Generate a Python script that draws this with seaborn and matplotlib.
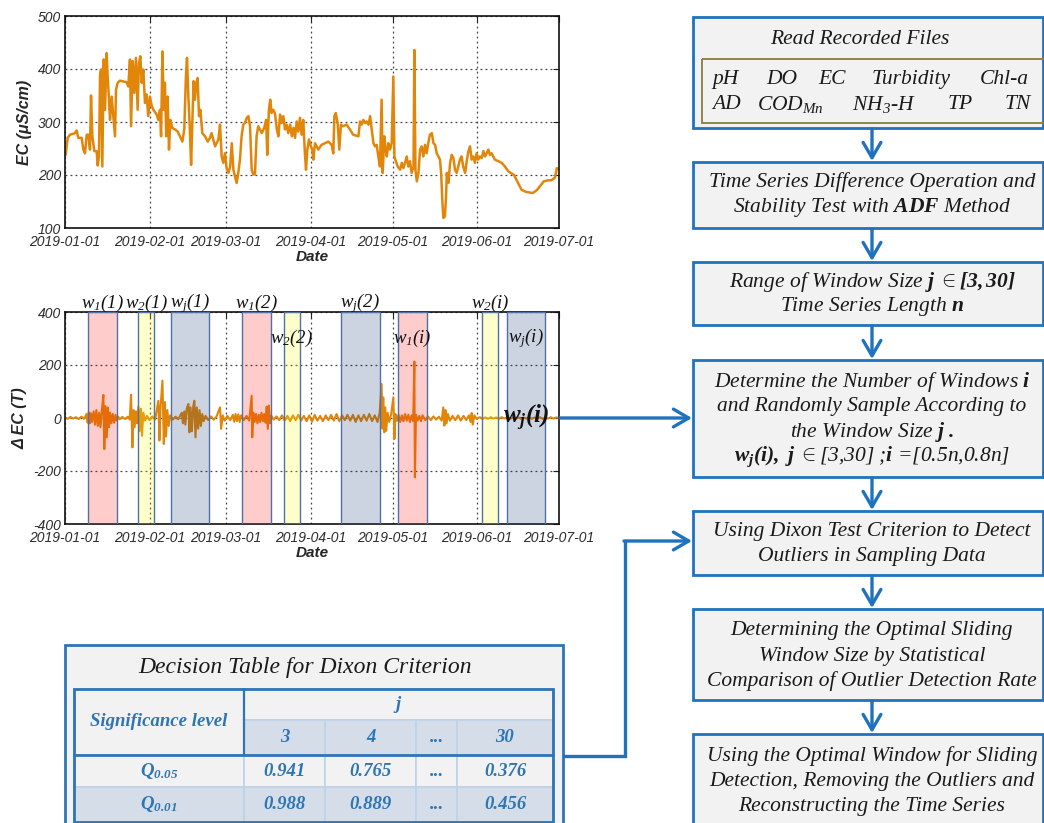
import numpy as np
import pandas as pd
import matplotlib
matplotlib.use("Agg")
import matplotlib.pyplot as plt
from matplotlib.patches import Rectangle
import seaborn as sns

# ---------------- data ----------------
start_date = "2019-01-01"
x_tick_labels = ["2019-01-01", "2019-02-01", "2019-03-01", "2019-04-01",
                 "2019-05-01", "2019-06-01", "2019-07-01"]
ec_yticks = [100, 200, 300, 400, 500]
dec_yticks = [-400, -200, 0, 200, 400]

# EC (uS/cm): day offset from 2019-01-01 and value
ec_day = [0.24, 0.98, 1.83, 3.66, 4.27, 4.89, 6.11, 6.72, 7.33, 7.94, 8.55, 9.16, 9.53, 10.02,
          10.75, 11.6, 11.97, 12.46, 12.83, 13.19, 13.68, 14.17, 14.66, 15.27, 15.63, 16.12,
          16.49, 17.1, 17.71, 18.32, 18.69, 19.3, 20.15, 22.6, 23.2, 23.8, 24.2, 24.8, 25.4,
          26.0, 26.6, 27.1, 27.6, 28.1, 28.7, 29.3, 29.9, 30.5, 31.1, 31.8, 32.4, 33.6, 34.2,
          34.8, 35.2, 35.7, 36.2, 36.6, 37.1, 37.6, 38.1, 38.6, 39.3, 40.3, 41.3, 42.1, 43.0,
          43.7, 44.3, 44.7, 45.2, 45.7, 46.2, 46.7, 47.1, 47.6, 48.1, 48.6, 49.1, 49.6, 50.3,
          51.3, 52.3, 53.1, 53.7, 55.0, 56.2, 56.8, 57.4, 58.0, 58.6, 59.2, 59.9, 60.5, 61.1,
          61.7, 62.3, 62.9, 63.5, 64.1, 64.7, 65.3, 65.9, 66.6, 67.2, 67.8, 68.4, 69.0, 69.6,
          70.2, 70.8, 72.1, 73.0, 73.7, 74.1, 74.7, 75.2, 75.7, 76.3, 76.9, 77.6, 78.2, 78.8,
          79.4, 80.0, 80.6, 81.2, 81.8, 82.5, 83.1, 83.7, 84.3, 84.9, 85.5, 86.1, 86.7, 87.3,
          87.9, 88.3, 88.8, 89.4, 90.1, 90.6, 91.0, 91.6, 92.8, 94.0, 95.3, 96.5, 97.7, 98.3,
          98.7, 99.2, 99.9, 100.5, 101.1, 101.9, 103.2, 104.4, 105.6, 107.5, 108.1, 108.7,
          109.3, 109.9, 110.5, 111.2, 111.8, 112.4, 113.0, 113.6, 114.2, 114.8, 115.4, 116.0,
          116.4, 117.0, 117.5, 117.9, 118.5, 119.1, 119.7, 120.3, 120.7, 121.2, 121.9, 122.8,
          123.4, 124.0, 124.6, 125.2, 125.8, 126.4, 127.0, 127.7, 128.0, 128.4, 128.9, 129.5,
          130.1, 130.7, 131.3, 131.9, 132.5, 133.1, 133.7, 134.4, 135.0, 135.6, 136.2, 136.8,
          137.4, 137.8, 138.3, 138.6, 139.2, 139.6, 139.9, 140.5, 141.1, 141.7, 142.3, 142.9,
          143.5, 144.1, 144.7, 145.3, 145.9, 146.6, 147.2, 147.8, 148.4, 149.0, 149.6, 150.2,
          150.8, 151.4, 152.0, 152.7, 153.3, 153.9, 154.5, 155.1, 155.7, 156.3, 157.5, 158.8,
          160.0, 161.2, 162.4, 164.5, 166.0, 167.3, 169.0, 171.4, 173.0, 175.4, 177.0, 178.2,
          179.5, 180.2, 181.0]
ec_value = [238, 270, 276, 279, 284, 270, 270, 248, 241, 276, 276, 248, 350, 273,
            245, 245, 218, 235, 386, 399, 216, 418, 323, 430, 386, 342,
            304, 348, 311, 273, 361, 374, 378, 375, 367, 418, 292, 415, 355,
            421, 323, 411, 424, 374, 399, 336, 352, 311, 348, 330, 323, 314, 304,
            323, 273, 433, 323, 374, 273, 348, 248, 304, 289, 286, 282, 273, 263,
            286, 386, 421, 348, 292, 219, 304, 377, 342, 374, 383, 311, 323, 279,
            273, 263, 270, 279, 254, 267, 295, 235, 223, 241, 213, 204, 216, 260,
            210, 197, 185, 204, 229, 273, 295, 298, 308, 311, 292, 210, 201, 201,
            273, 292, 279, 289, 304, 238, 323, 342, 317, 323, 317, 286, 273, 314,
            298, 311, 286, 295, 279, 295, 273, 289, 270, 301, 282, 308, 276, 304,
            241, 210, 248, 267, 254, 248, 229, 260, 248, 257, 260, 263, 257, 241,
            311, 317, 298, 248, 295, 292, 295, 286, 276, 273, 301, 295,
            304, 298, 301, 295, 311, 286, 260, 254, 257, 235, 216, 342,
            204, 273, 248, 235, 260, 248, 260, 386, 235, 226, 216, 210,
            223, 213, 223, 235, 216, 226, 204, 216, 436, 210, 188, 204,
            248, 254, 235, 257, 241, 260, 276, 279, 260, 257, 241, 235,
            229, 204, 147, 119, 122, 158, 204, 185, 223, 238, 232, 210,
            204, 216, 229, 235, 216, 204, 226, 245, 254, 229, 235, 223,
            241, 229, 235, 232, 245, 235, 241, 248, 238, 241, 229, 226,
            223, 216, 207, 200, 185, 172, 168, 166, 172, 188, 190, 190,
            195, 213, 210]

# Delta EC: day offset and value
dec_day = [0, 1, 2, 3, 4, 5, 6, 7, 7.9, 8.3, 8.7, 9.1, 9.5, 9.9, 10.5, 11, 11.5, 12, 12.5, 13,
           13.5, 14.05, 14.4, 14.8, 15.3, 15.7, 16.1, 16.5, 17, 17.5, 18, 18.5, 18.9, 19.5, 20,
           21, 22, 23, 23.7, 24.2, 24.7, 25.1, 25.5, 26, 26.4, 26.9, 27.3, 27.8, 28.2, 28.7,
           29.3, 30, 31, 32, 33, 34.2, 34.6, 35, 35.7, 36.2, 36.6, 37, 37.5, 38, 38.5, 39.5,
           40.5, 41.5, 42.8, 43.2, 43.7, 44.1, 44.6, 45.2, 45.6, 46, 46.5, 47, 47.4, 47.8, 48.3,
           48.8, 49.3, 49.8, 50.3, 50.8, 51.5, 52.5, 53.5, 54.5, 55.5, 56.8, 57.2, 57.8, 58.5,
           59.5, 60.5, 61.5, 62, 62.5, 63, 63.5, 64, 64.5, 65.5, 66.5, 67.5, 68.4, 68.6, 69,
           69.5, 70, 70.5, 71, 71.5, 72, 72.5, 73, 73.5, 73.9, 74.3, 74.7, 75.1, 75.6, 76.5,
           77.5, 78.5, 79.5, 80.5, 81.5, 82.5, 83.5, 84.5, 85.5, 86.5, 87.5, 88.5, 89.5, 90.5,
           91.5, 92.5, 93.5, 94.5, 95.5, 96.5, 97.5, 98.5, 99.5, 100.5, 101.5, 102.5, 103.5,
           104.5, 105.5, 106.5, 107.5, 108.5, 109.5, 110.5, 111.5, 112.5, 113.5, 114.5, 115.3,
           116.0, 116.3, 116.6, 117, 117.3, 117.7, 118.2, 118.8, 119.5, 120.3, 120.7, 121.1,
           121.6, 122.2, 122.8, 123.4, 124, 124.6, 125.2, 125.8, 126.4, 127, 127.6, 128.0,
           128.2, 128.6, 129.2, 129.8, 130.4, 131, 132, 133, 134, 135, 136, 137, 138, 138.6,
           139, 139.4, 139.8, 140.3, 141, 142, 143, 144, 145, 146, 147, 148, 148.6, 149, 149.4,
           150, 150.8, 152, 153, 154, 155, 156, 157, 158, 159, 160, 161, 162, 163, 164, 165,
           166, 167, 168, 169, 170, 171, 172, 173, 174, 175, 176, 177, 178, 179, 180, 181]
dec_value = [2, -3, 4, -2, 3, -4, 5, -3, 15, -18, 22, -20, 18, -15, 25, -25, 30, -30, 20, -35,
             28, 87, -117, 45, -73, 40, -35, 20, -20, 15, -18, 12, -10, 5, -5,
             4, -4, 5, -6, 88, -111, 30, -35, 25, -20, 43, -50, 35, -67, 20,
             -10, 8, -8, 6, -6, 65, -85, 40, 141, -98, 60, -70, 30, -30, 10, -6,
             5, -5, 20, -20, 25, -25, 35, 53, -54, 40, -50, 45, 65, -73, 40,
             -40, 30, -30, 15, -12, 8, -8, 6, -6, 5, 40, -41, 10, -10,
             8, -8, 12, -14, 15, -12, 14, -15, 10, -8, 8, -10, 84, -73, 20,
             -15, 15, -20, 12, -15, 20, -12, 15, -18, 43, -41, 47, -20, 8, -6,
             6, -8, 10, -10, 8, -12, 10, -8, 12, -10, 8, -12, 10, -14,
             12, -10, 8, -12, 10, -8, 12, -10, 15, -12, 10, -8, 12,
             -10, 12, -15, 10, -12, 12, -10, 15, -12, 10, -15, 20,
             128, -40, 78, -54, 40, -48, 20, -15, 15, 78, -79, 15,
             -10, 12, -15, 10, -12, 15, -10, 12, -15, 10, -12, 213,
             -224, 12, -10, 8, -12, 10, -8, 6, -8, 6, -6, 5, -10, 40,
             -29, 30, -20, 15, -10, 8, -8, 10, -10, 8, -8, 10, -15, 19, -25,
             10, -3, 3, -3, 2, -3, 3, -2, 2, -3, 3, -2, 3, -3, 2, -2,
             3, -3, 2, -2, 3, -3, 2, -2, 3, -3, 2, -2, 3, -2, 2, 0]

# sampling windows (day offsets) and their kind / label
win_start = [8.5, 26.6, 38.7, 65.0, 80.1, 101.1, 122.1, 152.7, 161.9]
win_end = [19.2, 32.7, 52.8, 75.4, 86.1, 115.4, 132.5, 158.8, 175.7]
win_kind = ["w1", "w2", "wj", "w1", "w2", "wj", "w1", "w2", "wj"]
win_label = [r"$w_1(1)$", r"$w_2(1)$", r"$w_j(1)$", r"$w_1(2)$", r"$w_2(2)$",
             r"$w_j(2)$", r"$w_1(i)$", r"$w_2(i)$", r"$w_j(i)$"]
win_label_inside = [False, False, False, False, True, False, True, False, True]

# Dixon decision table
table_title = "Decision Table for Dixon Criterion"
sig_header = "Significance level"
j_header = "j"
j_values = ["3", "4", "...", "30"]
sig_levels = [r"$\mathbf{Q_{0.05}}$", r"$\mathbf{Q_{0.01}}$"]
q_005 = ["0.941", "0.765", "...", "0.376"]
q_001 = ["0.988", "0.889", "...", "0.456"]

# flow chart
read_title = "Read Recorded Files"
param_row1 = ["pH", "DO", "EC", "Turbidity", "Chl-a"]
param_row2 = ["AD", r"$COD_{Mn}$", r"$NH_3$-H", "TP", "TN"]
flow_steps = [
    ["Time Series Difference Operation and",
     r"Stability Test with $\mathbf{ADF}$ Method"],
    [r"Range of Window Size $\mathbf{j}$ $\in\mathbf{[3,30]}$",
     r"Time Series Length $\mathbf{n}$"],
    [r"Determine the Number of Windows $\mathbf{i}$",
     "and Randomly Sample According to",
     r"the Window Size $\mathbf{j\ .}$",
     r"$\mathbf{w_j(i),\ j}$ $\in$[3,30] ;$\mathbf{i}$ =[0.5n,0.8n]"],
    ["Using Dixon Test Criterion to Detect",
     "Outliers in Sampling Data"],
    ["Determining the Optimal Sliding",
     "Window Size by Statistical",
     "Comparison of Outlier Detection Rate"],
    ["Using the Optimal Window for Sliding",
     "Detection, Removing the Outliers and",
     "Reconstructing the Time Series"],
]

# ---------------- style ----------------
sns.set_style("white")
plt.rcParams["font.family"] = ["Liberation Sans", "DejaVu Sans"]
plt.rcParams["mathtext.fontset"] = "custom"
plt.rcParams["mathtext.rm"] = "Liberation Serif:italic"
plt.rcParams["mathtext.it"] = "Liberation Serif:italic"
plt.rcParams["mathtext.bf"] = "Liberation Serif:italic:bold"
plt.rcParams["mathtext.bfit"] = "Liberation Serif:italic:bold"

W, H = 1044, 823
fig = plt.figure(figsize=(W / 100, H / 100), dpi=100)
fig.patch.set_facecolor("white")

ORANGE = "#E2860A"
BLUE = "#1F72BE"
TBLUE = "#2E75B6"
EDGE = "#5070A8"
SERIF = "Liberation Serif"


def fig_rect(x0, y0, x1, y1):
    return [x0 / W, 1 - y1 / H, (x1 - x0) / W, (y1 - y0) / H]


t0 = pd.Timestamp(start_date)
ec_dates = t0 + pd.to_timedelta(ec_day, unit="D")
dec_dates = t0 + pd.to_timedelta(dec_day, unit="D")
xt = pd.to_datetime(x_tick_labels)


def style_axis(ax, yticks, ylabel):
    ax.set_xlim(xt[0], xt[-1])
    ax.set_ylim(yticks[0], yticks[-1])
    ax.set_xticks(xt)
    ax.set_xticklabels(x_tick_labels, fontstyle="italic", fontsize=10, color="#2b2b2b")
    ax.set_yticks(yticks)
    ax.set_yticklabels([str(v) for v in yticks], fontstyle="italic", fontsize=10,
                       color="#2b2b2b")
    ax.tick_params(direction="in", length=4, top=True, right=True, color="#222222")
    ax.tick_params(axis="x", pad=5)
    ax.tick_params(axis="y", pad=3)
    ax.grid(True, linestyle=(0, (1.5, 2.5)), color="#444444", linewidth=0.9)
    for s in ax.spines.values():
        s.set_visible(True)
        s.set_color("#111111")
        s.set_linewidth(1.2)
    ax.set_xlabel("Date", fontweight="bold", fontstyle="italic", fontsize=11, labelpad=1)
    ax.set_ylabel(ylabel, fontweight="bold", fontstyle="italic", fontsize=11.5, labelpad=4)


# --- EC series ---
ax1 = fig.add_axes(fig_rect(65, 16, 559, 228))
sns.lineplot(x=ec_dates, y=ec_value, ax=ax1, color=ORANGE, linewidth=1.8,
             estimator=None, sort=False)
style_axis(ax1, ec_yticks, "EC (\u03bcS/cm)")

# --- Delta EC series ---
ax2 = fig.add_axes(fig_rect(65, 312, 559, 524))
sns.lineplot(x=dec_dates, y=dec_value, ax=ax2, color=ORANGE, linewidth=1.5,
             estimator=None, sort=False)
style_axis(ax2, dec_yticks, "\u0394 EC (T)")

fills = {"w1": (1.0, 0.0, 0.0, 0.20), "w2": (1.0, 1.0, 0.0, 0.20),
         "wj": (0.02, 0.16, 0.41, 0.20)}
for s, e, k, lab, inside in zip(win_start, win_end, win_kind, win_label, win_label_inside):
    ds, de = t0 + pd.Timedelta(days=s), t0 + pd.Timedelta(days=e)
    ax2.axvspan(ds, de, facecolor=fills[k], edgecolor=EDGE, linewidth=1.0, zorder=3)
    mid = t0 + pd.Timedelta(days=(s + e) / 2)
    yv = 300 if inside else 432
    ax2.text(mid, yv, lab, ha="center", va="center", fontsize=13.5, color="#111111",
             clip_on=False, zorder=6)
ax2.text(t0 + pd.Timedelta(days=(win_start[-1] + win_end[-1]) / 2), 0, r"$\mathbf{w_j(i)}$",
         ha="center", va="center", fontsize=18, color="#111111", zorder=6)

# ---------------- overlay: flow chart & table ----------------
ov = fig.add_axes([0, 0, 1, 1], zorder=5)
ov.set_xlim(0, W)
ov.set_ylim(H, 0)
ov.axis("off")
ov.patch.set_alpha(0)

FS = 15.5
box_x0, box_x1 = 693, 1043
box_tops = [17, 162, 262, 360, 511, 609, 734]
box_bots = [128, 228, 325, 477, 575, 700, 830]
line_ys = [[181.7, 207.3], [281.7, 306.7], [381.7, 406.7, 431.7, 456.7],
           [531.7, 556.7], [630, 656, 681.5], [756.5, 781.5, 806.5]]
cx = 872

for t, b in zip(box_tops, box_bots):
    ov.add_patch(Rectangle((box_x0, t), box_x1 - box_x0, b - t, facecolor="#F2F2F2",
                           edgecolor=BLUE, linewidth=2.0, zorder=1))

ov.text(860, 39.5, read_title, ha="center", va="center", fontsize=FS, family=SERIF,
        style="italic", color="#1a1a1a")
ov.add_patch(Rectangle((702, 59), 345, 64, facecolor="none", edgecolor="#8C7A40",
                       linewidth=1.3, zorder=2))
row1_x = [712, 766, 818, 872, 980]
row2_x = [712, 757, 852, 948, 1005]
for xs, row, y in [(row1_x, param_row1, 79.5), (row2_x, param_row2, 104.5)]:
    for x, tok in zip(xs, row):
        ov.text(x, y, tok, ha="left", va="center", fontsize=FS, family=SERIF,
                style="italic", color="#1a1a1a")

for lines, ys in zip(flow_steps, line_ys):
    for txt, y in zip(lines, ys):
        ov.text(cx, y, txt, ha="center", va="center", fontsize=FS, family=SERIF,
                style="italic", color="#1a1a1a")

arrow_kw = dict(arrowstyle="->,head_length=0.55,head_width=0.32", color=BLUE, lw=2.4,
                mutation_scale=20, shrinkA=0, shrinkB=0)
for b, t in zip(box_bots[:-1], box_tops[1:]):
    ov.annotate("", xy=(cx, t - 1), xytext=(cx, b + 1), arrowprops=arrow_kw)

# arrow from the delta-EC chart to step "Determine the Number of Windows"
ov.annotate("", xy=(692, 418), xytext=(560, 418), arrowprops=arrow_kw)
# elbow from the Dixon table to "Using Dixon Test Criterion"
ov.plot([563, 625, 625], [756, 756, 541], color=BLUE, lw=2.4, solid_capstyle="butt",
        solid_joinstyle="miter")
ov.annotate("", xy=(692, 541), xytext=(624, 541), arrowprops=arrow_kw)

# ---- Dixon table ----
ov.add_patch(Rectangle((65, 645), 498, 190, facecolor="#F2F2F2", edgecolor=TBLUE,
                       linewidth=2.0, zorder=1))
ov.text(305, 667, table_title, ha="center", va="center", fontsize=17, family=SERIF,
        style="italic", color="#1a1a1a")
cols = [74, 244, 325, 416, 457, 553]
rows = [689, 720, 755, 787, 822]
LIGHT = "#F2F2F2"
STEEL = "#D5DDE8"
GRID = "#BDD3EA"


def cell(x0, x1, y0, y1, fc):
    ov.add_patch(Rectangle((x0, y0), x1 - x0, y1 - y0, facecolor=fc, edgecolor=GRID,
                           linewidth=1.2, zorder=2))


cell(cols[0], cols[1], rows[0], rows[2], LIGHT)
cell(cols[1], cols[5], rows[0], rows[1], LIGHT)
for i in range(4):
    cell(cols[i + 1], cols[i + 2], rows[1], rows[2], STEEL)
for r, fc in [(2, LIGHT), (3, STEEL)]:
    for i in range(5):
        cell(cols[i], cols[i + 1], rows[r], rows[r + 1], fc)
ov.add_patch(Rectangle((cols[0], rows[0]), cols[-1] - cols[0], rows[-1] - rows[0],
                       facecolor="none", edgecolor=TBLUE, linewidth=2.0, zorder=3))
ov.plot([cols[0], cols[-1]], [rows[2], rows[2]], color=TBLUE, lw=2.0, zorder=3)
ov.plot([cols[1], cols[1]], [rows[0], rows[2]], color=TBLUE, lw=1.6, zorder=3)

tkw = dict(ha="center", va="center", fontsize=13.5, family=SERIF, style="italic",
           weight="bold", color=TBLUE, zorder=4)
ov.text((cols[0] + cols[1]) / 2, (rows[0] + rows[2]) / 2, sig_header, **tkw)
ov.text((cols[1] + cols[5]) / 2, (rows[0] + rows[1]) / 2, j_header, **tkw)
for i, v in enumerate(j_values):
    ov.text((cols[i + 1] + cols[i + 2]) / 2, (rows[1] + rows[2]) / 2, v, **tkw)
for r, (lab, vals) in enumerate(zip(sig_levels, [q_005, q_001])):
    yc = (rows[r + 2] + rows[r + 3]) / 2
    ov.text((cols[0] + cols[1]) / 2, yc, lab, **tkw)
    for i, v in enumerate(vals):
        ov.text((cols[i + 1] + cols[i + 2]) / 2, yc, v, **tkw)

fig.savefig("out.png", dpi=100, facecolor="white")
